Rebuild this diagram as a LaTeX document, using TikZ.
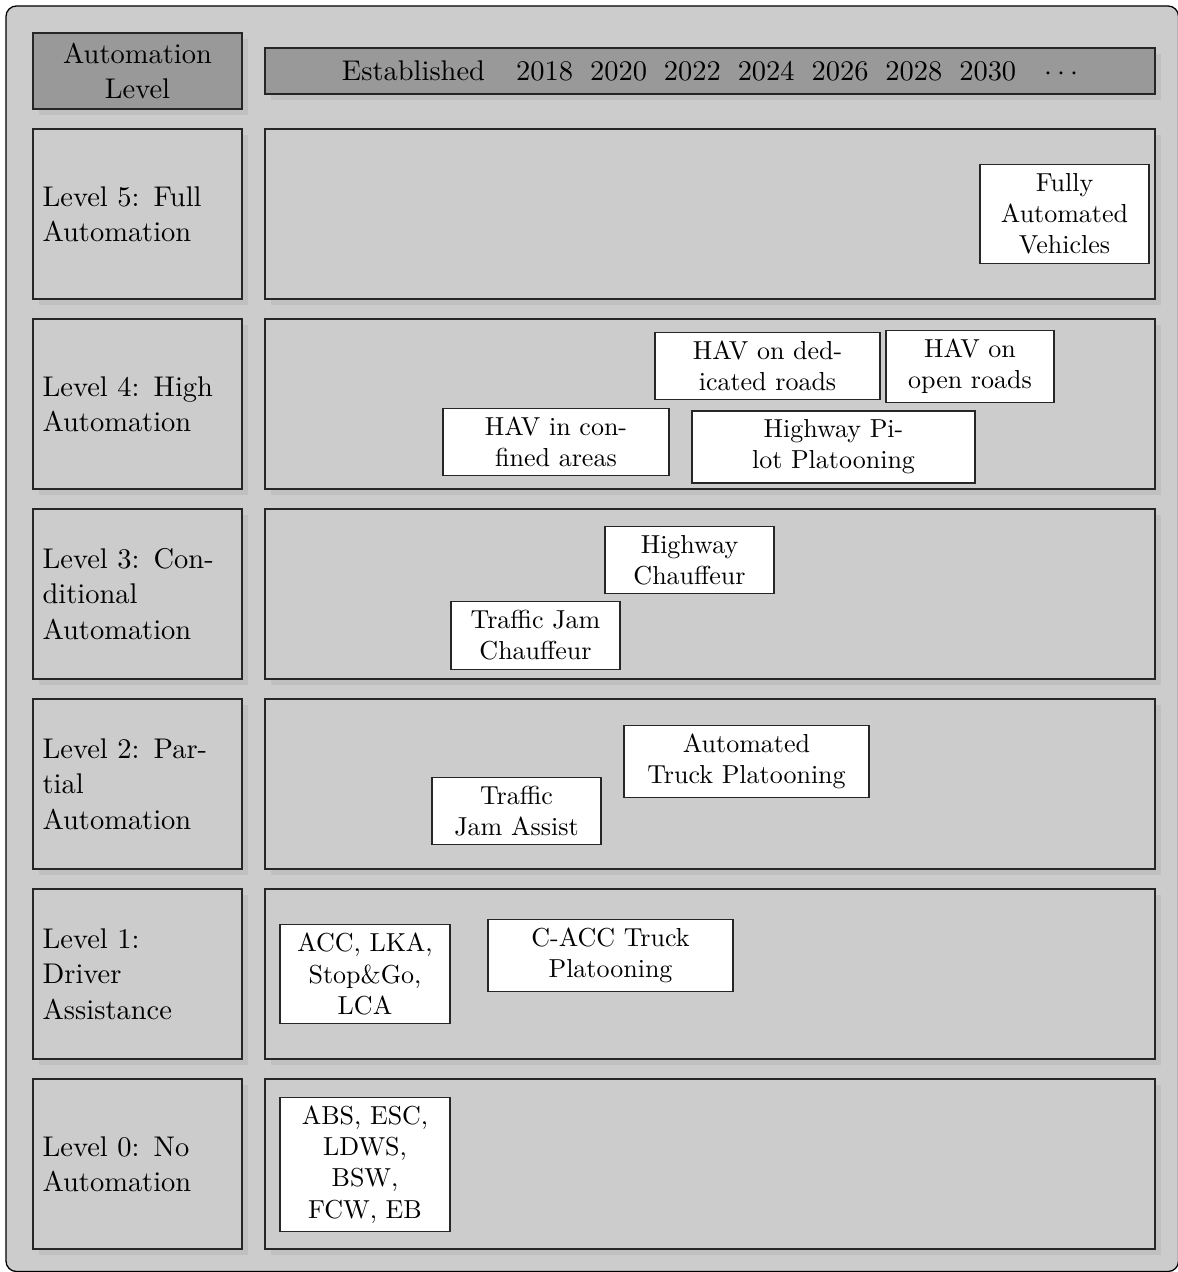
\documentclass[tikz,border=0pt]{standalone}
\usetikzlibrary{shadows}
\begin{document}
\begin{tikzpicture}[x=0.3846pt,y=-0.3846pt,
  shade/.style={drop shadow={shadow xshift=2.3pt, shadow yshift=-2.3pt, fill=black, opacity=0.06}},
  panel/.style={draw=black!85, line width=0.5pt, fill=black!20, shade},
  lvl/.style={panel, minimum width=80.4pt, minimum height=65.4pt, text width=73pt, align=left,
    font=\fontsize{10.95}{13.6}\selectfont},
  lane/.style={panel, minimum width=342.3pt, minimum height=65.4pt},
  head/.style={panel, fill=black!40, font=\fontsize{10.95}{13.6}\selectfont},
  tech/.style={draw=black!85, line width=0.5pt, fill=white, align=center,
    font=\fontsize{10}{12}\selectfont}]
\useasboundingbox (0,0) rectangle (1178,1272);
% outer frame
\draw[rounded corners=4pt, fill=black!20, draw=black, line width=0.5pt] (6,6) rectangle (1178.5,1271.5);

% header row
\node[head, minimum width=80.4pt, minimum height=29.2pt, align=center] (hdrL) at (137.5,71) {Automation\\Level};
\node[head, minimum width=342.3pt, minimum height=17.7pt] (hdrR) at (710,71)
  {Established\hspace{12pt}2018\hspace{6.5pt}2020\hspace{6.5pt}2022\hspace{6.5pt}2024\hspace{6.5pt}2026\hspace{6.5pt}2028\hspace{6.5pt}2030\hspace{11pt}$\cdots$\hspace{5pt}};

% automation levels
\node[lvl] (l5) at (137.5,214) {Level 5: Full\\Automation};
\node[lvl] (l4) at (137.5,404) {Level 4: High\\Automation};
\node[lvl] (l3) at (137.5,594) {Level 3: Con-\\ditional\\Automation};
\node[lvl] (l2) at (137.5,784) {Level 2: Par-\\tial\\Automation};
\node[lvl] (l1) at (137.5,974) {Level 1:\\Driver\\Assistance};
\node[lvl] (l0) at (137.5,1164) {Level 0: No\\Automation};

% timeline lanes
\node[lane] (r5) at (710,214) {};
\node[lane] (r4) at (710,404) {};
\node[lane] (r3) at (710,594) {};
\node[lane] (r2) at (710,784) {};
\node[lane] (r1) at (710,974) {};
\node[lane] (r0) at (710,1164) {};

% functions per level
\node[tech, minimum width=65pt] (fav) at (1064.5,214) {Fully\\Automated\\Vehicles};
\node[tech, minimum width=86.5pt] (havded) at (767.5,366) {HAV on ded-\\icated roads};
\node[tech, minimum width=64.6pt] (havopen) at (970,366.5) {HAV on\\open roads};
\node[tech, minimum width=86.9pt] (havconf) at (556,442) {HAV in con-\\fined areas};
\node[tech, minimum width=108.8pt] (hpp) at (833.5,447) {Highway Pi-\\lot Platooning};
\node[tech, minimum width=65pt] (hwc) at (689.5,560) {Highway\\Chauffeur};
\node[tech, minimum width=65pt] (tjc) at (535.5,635.5) {Traffic Jam\\Chauffeur};
\node[tech, minimum width=94.2pt] (atp) at (746.5,761.5) {Automated\\Truck Platooning};
\node[tech, minimum width=65pt] (tja) at (516.5,811) {Traffic\\Jam Assist};
\node[tech, minimum width=65.4pt] (acc) at (365,974) {ACC, LKA,\\Stop\&Go,\\LCA};
\node[tech, minimum width=94.2pt] (cacc) at (610.5,955.5) {C-ACC Truck\\Platooning};
\node[tech, minimum width=65.4pt] (abs) at (365,1164.5) {ABS, ESC,\\LDWS,\\BSW,\\FCW, EB};
\end{tikzpicture}
\end{document}
